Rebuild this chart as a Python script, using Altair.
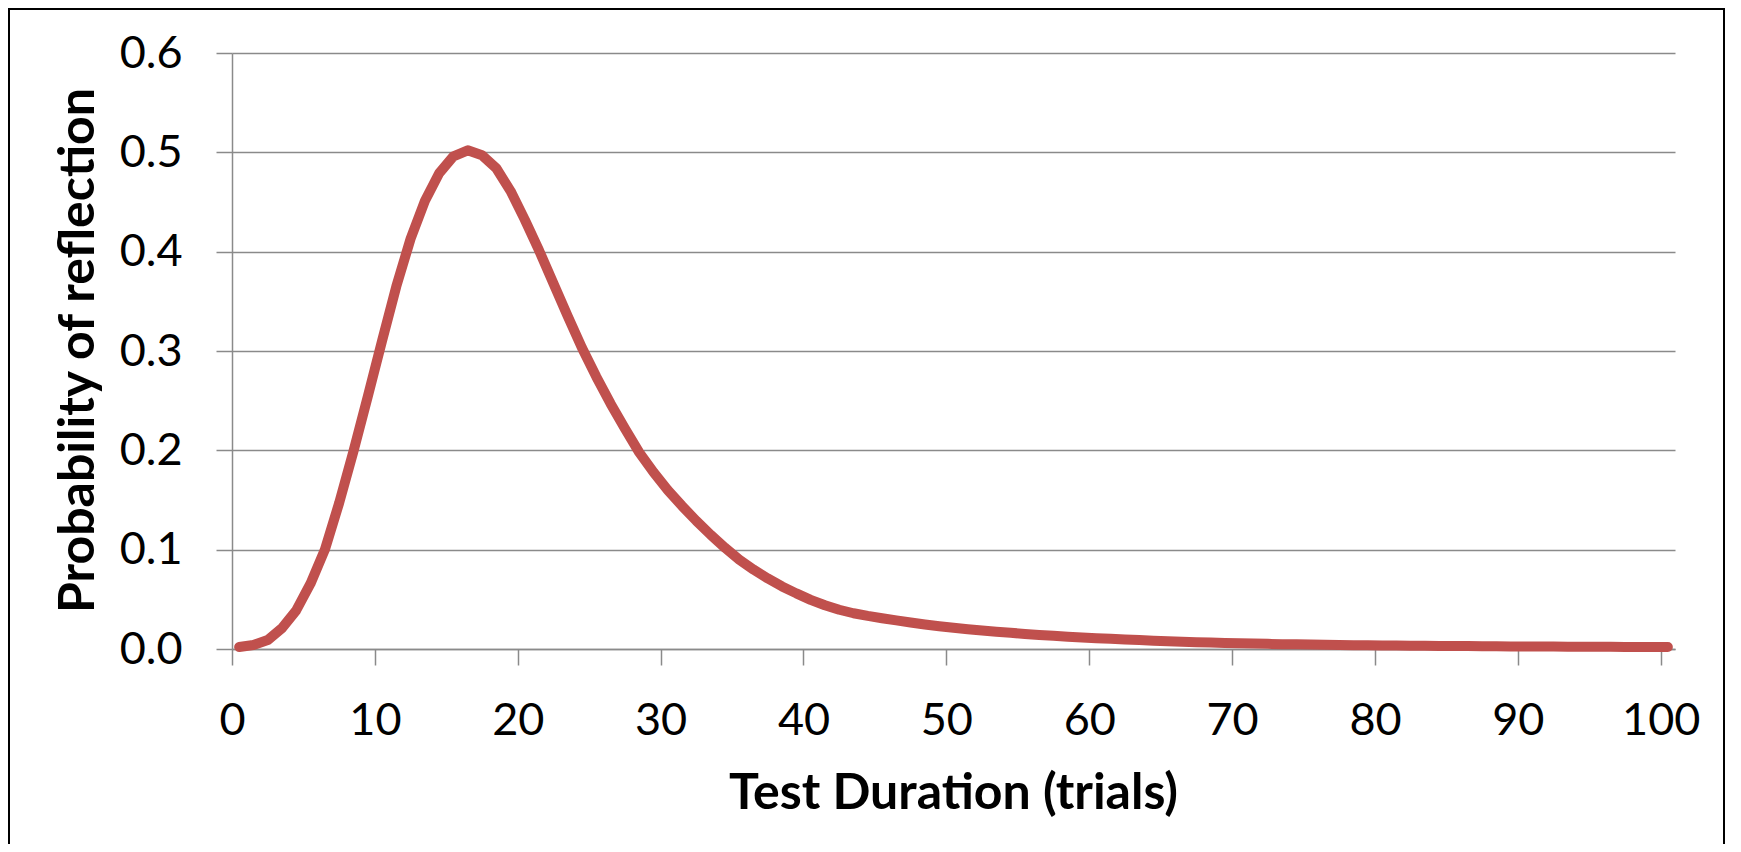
import altair as alt
import pandas as pd

# Test duration (trial midpoints) and probability of reflection
trials = [k + 0.5 for k in range(101)]
probability = [
    0.002, 0.004, 0.009, 0.021, 0.039, 0.066, 0.100, 0.147, 0.199, 0.254,
    0.310, 0.365, 0.413, 0.451, 0.479, 0.496, 0.502, 0.497, 0.484, 0.461,
    0.432, 0.401, 0.368, 0.335, 0.303, 0.274, 0.247, 0.222, 0.198, 0.178,
    0.160, 0.144, 0.129, 0.115, 0.102, 0.090, 0.080, 0.071, 0.063, 0.056,
    0.0495, 0.0440, 0.0395, 0.0360, 0.0333, 0.0310, 0.0288, 0.0267, 0.0247, 0.0229,
    0.0213, 0.0199, 0.0186, 0.0174, 0.0163, 0.0152, 0.0142, 0.0133, 0.0124, 0.0116,
    0.0109, 0.0102, 0.0096, 0.0090, 0.0084, 0.0079, 0.0074, 0.0069, 0.0065, 0.0061,
    0.0058, 0.0055, 0.0052, 0.0049, 0.0047, 0.0045, 0.0043, 0.0041, 0.0039, 0.0037,
    0.0035, 0.0034, 0.0033, 0.0032, 0.0031, 0.0030, 0.0029, 0.0028, 0.0027, 0.0026,
    0.0025, 0.0024, 0.0024, 0.0023, 0.0023, 0.0022, 0.0022, 0.0021, 0.0021, 0.0020,
    0.0020,
]
x_ticks = [0, 10, 20, 30, 40, 50, 60, 70, 80, 90, 100]
y_ticks = [0.0, 0.1, 0.2, 0.3, 0.4, 0.5, 0.6]

df = pd.DataFrame({"trials": trials, "prob": probability})

GRAY = "#8a8a8a"
FONT = "Lato"

line = alt.Chart(df).mark_line(
    color="#C0504D", strokeWidth=10, strokeCap="round", strokeJoin="round"
).encode(
    x=alt.X(
        "trials:Q",
        scale=alt.Scale(domain=[0, 101], nice=False, zero=False),
        axis=alt.Axis(
            values=x_ticks, format="d", grid=False, labelFlush=False,
            title="Test Duration (trials)",
            titleX=721, titleY=159, titleBaseline="alphabetic", titleAlign="center",
            tickSize=16, labelPadding=33, labelBaseline="top",
        ),
    ),
    y=alt.Y(
        "prob:Q",
        scale=alt.Scale(domain=[0, 0.6], nice=False),
        axis=alt.Axis(
            values=y_ticks, format=".1f", grid=True, labelFlush=False,
            title="Probability of reflection",
            titleAngle=-90, titleX=-139, titleY=297, titleBaseline="alphabetic",
            titleAlign="center",
            tickSize=16, labelPadding=34,
        ),
    ),
)

frame = alt.Chart(df).mark_rect(fill=None, stroke="black", strokeWidth=2).encode(
    x=alt.value(-223), x2=alt.value(1492), y=alt.value(-44), y2=alt.value(900)
)

chart = alt.layer(frame, line).properties(
    width=1443, height=596,
    padding={"left": 224, "top": 45, "right": 58, "bottom": 195},
    autosize=alt.AutoSizeParams(type="none"),
).configure_view(stroke=None).configure_axis(
    domainColor=GRAY, domainWidth=1.5,
    gridColor=GRAY, gridWidth=1.5,
    tickColor=GRAY, tickWidth=1.5,
    labelFont=FONT, labelFontSize=45, labelColor="black",
    titleFont=FONT, titleFontSize=50, titleFontWeight="bold", titleColor="black",
)

chart.save("out.html", embed_options={"renderer": "svg", "actions": False})
